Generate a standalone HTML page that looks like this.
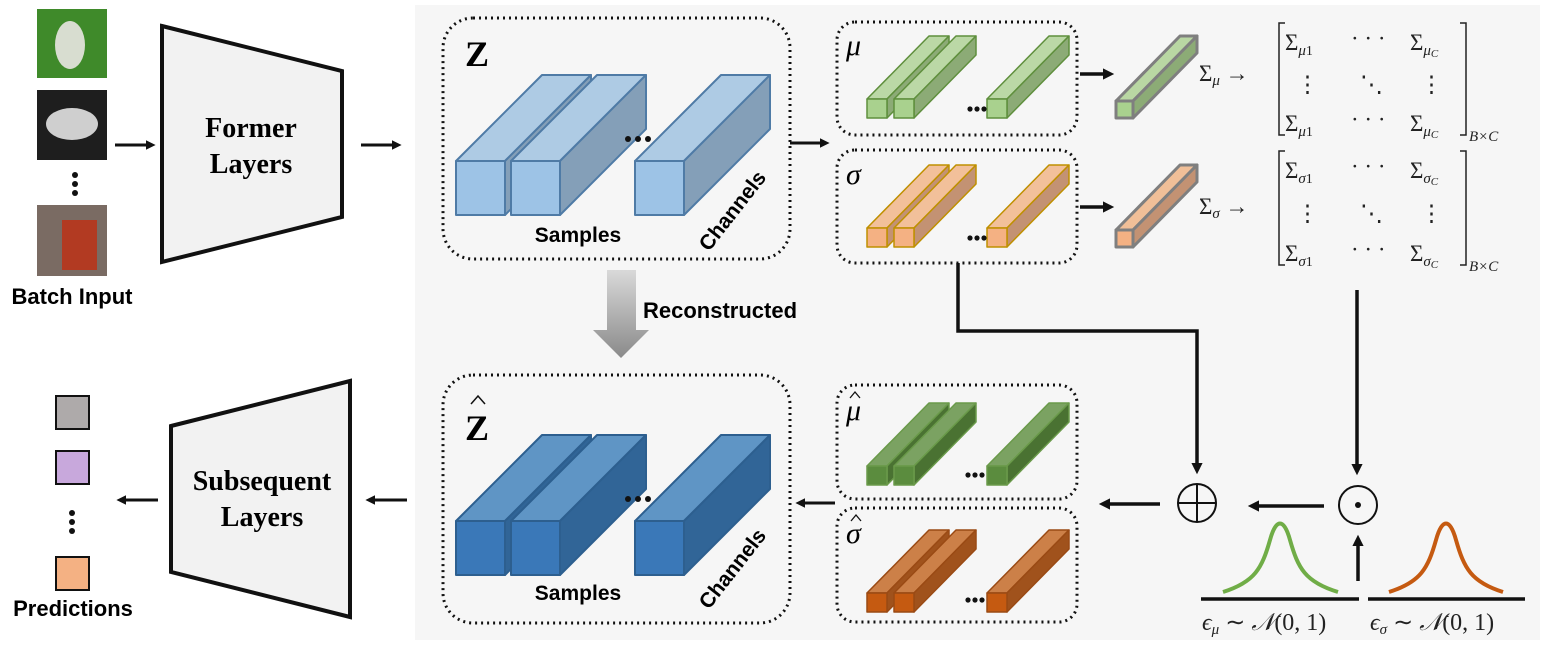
<!DOCTYPE html>
<html><head><meta charset="utf-8"><style>
html,body{margin:0;padding:0;background:#fff;}
svg{display:block;}
.m{font-family:"Liberation Serif",serif;font-style:italic;}
.r{font-family:"Liberation Serif",serif;}
.b{font-family:"Liberation Sans",sans-serif;font-weight:bold;}
</style></head><body>
<svg width="1545" height="646" viewBox="0 0 1545 646" xmlns="http://www.w3.org/2000/svg">
<defs>
<marker id="ah" markerWidth="4" markerHeight="4" refX="2" refY="2" orient="auto" markerUnits="strokeWidth"><path d="M0,0.4 L3.2,2 L0,3.6 Z" fill="#111"/></marker>
<linearGradient id="gg" x1="0" y1="0" x2="0" y2="1"><stop offset="0" stop-color="#d9d9d9"/><stop offset="1" stop-color="#8a8a8a"/></linearGradient>
</defs>
<rect x="415" y="5" width="1125" height="635" fill="#f6f6f6"/>

<!-- batch images -->
<rect x="37" y="9" width="70" height="69" fill="#3f8a2a"/>
<ellipse cx="70" cy="45" rx="15" ry="24" fill="#d8ddd0"/>
<rect x="37" y="90" width="70" height="70" fill="#1e1e1e"/>
<ellipse cx="72" cy="124" rx="26" ry="16" fill="#cfcfcf"/>
<rect x="37" y="205" width="70" height="71" fill="#7a6b63"/>
<rect x="62" y="220" width="35" height="50" fill="#b23a22"/>
<circle cx="75" cy="175" r="3" fill="#111"/><circle cx="75" cy="184" r="3" fill="#111"/><circle cx="75" cy="193" r="3" fill="#111"/>
<text x="72" y="304" class="b" font-size="22" text-anchor="middle">Batch Input</text>

<line x1="115" y1="145" x2="152" y2="145" stroke="#111" stroke-width="3" marker-end="url(#ah)"/>
<polygon points="162,26 342,71 342,217 162,262" fill="#f2f2f2" stroke="#111" stroke-width="4"/>
<text x="251" y="137" class="r" font-weight="bold" font-size="28" text-anchor="middle">Former</text>
<text x="251" y="173" class="r" font-weight="bold" font-size="28" text-anchor="middle">Layers</text>
<line x1="361" y1="145" x2="398" y2="145" stroke="#111" stroke-width="3" marker-end="url(#ah)"/>

<!-- predictions -->
<rect x="56" y="396" width="33" height="33" fill="#aeaaaa" stroke="#111" stroke-width="2"/>
<rect x="56" y="451" width="33" height="33" fill="#c8a8dc" stroke="#111" stroke-width="2"/>
<circle cx="72" cy="513" r="3" fill="#111"/><circle cx="72" cy="522" r="3" fill="#111"/><circle cx="72" cy="531" r="3" fill="#111"/>
<rect x="56" y="557" width="33" height="33" fill="#f4b183" stroke="#111" stroke-width="2"/>
<text x="73" y="616" class="b" font-size="22" text-anchor="middle">Predictions</text>
<line x1="158" y1="500" x2="120" y2="500" stroke="#111" stroke-width="3" marker-end="url(#ah)"/>
<polygon points="171,426 350,381 350,617 171,572" fill="#f2f2f2" stroke="#111" stroke-width="4"/>
<text x="262" y="490" class="r" font-weight="bold" font-size="28" text-anchor="middle">Subsequent</text>
<text x="262" y="526" class="r" font-weight="bold" font-size="28" text-anchor="middle">Layers</text>
<line x1="407" y1="500" x2="369" y2="500" stroke="#111" stroke-width="3" marker-end="url(#ah)"/>

<!-- dotted boxes -->
<g fill="none" stroke="#111" stroke-width="3" stroke-dasharray="2 4">
<rect x="443" y="18" width="347" height="241" rx="30"/>
<rect x="443" y="375" width="347" height="248" rx="30"/>
<rect x="837" y="22" width="240" height="113" rx="18"/>
<rect x="837" y="150" width="240" height="113" rx="18"/>
<rect x="837" y="385" width="240" height="114" rx="18"/>
<rect x="837" y="508" width="240" height="114" rx="18"/>
</g>

<!-- Z cuboids -->
<g stroke="#4f7ba6" stroke-width="2" stroke-linejoin="round">
<polygon points="456,161 505,161 591,75 542,75" fill="#aecbe4"/><polygon points="505,161 591,75 591,129 505,215" fill="#849fb8"/><rect x="456" y="161" width="49" height="54" fill="#9dc3e6"/>
<polygon points="511,161 560,161 646,75 597,75" fill="#aecbe4"/><polygon points="560,161 646,75 646,129 560,215" fill="#849fb8"/><rect x="511" y="161" width="49" height="54" fill="#9dc3e6"/>
<polygon points="635,161 684,161 770,75 721,75" fill="#aecbe4"/><polygon points="684,161 770,75 770,129 684,215" fill="#849fb8"/><rect x="635" y="161" width="49" height="54" fill="#9dc3e6"/>
</g>
<circle cx="628" cy="139" r="3" fill="#111"/><circle cx="638" cy="139" r="3" fill="#111"/><circle cx="648" cy="139" r="3" fill="#111"/>
<text x="465" y="66" class="r" font-weight="bold" font-size="36">Z</text>
<text x="578" y="242" class="b" font-size="21" text-anchor="middle" style="font-weight:600">Samples</text>
<text x="0" y="0" class="b" font-size="21" transform="translate(738,215) rotate(-52)" text-anchor="middle" style="font-weight:600">Channels</text>

<!-- Zhat cuboids -->
<g stroke="#2d5f8f" stroke-width="2" stroke-linejoin="round">
<polygon points="456,521 505,521 591,435 542,435" fill="#5f95c5"/><polygon points="505,521 591,435 591,489 505,575" fill="#316597"/><rect x="456" y="521" width="49" height="54" fill="#3a78b8"/>
<polygon points="511,521 560,521 646,435 597,435" fill="#5f95c5"/><polygon points="560,521 646,435 646,489 560,575" fill="#316597"/><rect x="511" y="521" width="49" height="54" fill="#3a78b8"/>
<polygon points="635,521 684,521 770,435 721,435" fill="#5f95c5"/><polygon points="684,521 770,435 770,489 684,575" fill="#316597"/><rect x="635" y="521" width="49" height="54" fill="#3a78b8"/>
</g>
<circle cx="628" cy="499" r="3" fill="#111"/><circle cx="638" cy="499" r="3" fill="#111"/><circle cx="648" cy="499" r="3" fill="#111"/>
<text x="465" y="440" class="r" font-weight="bold" font-size="36">Z</text>
<path d="M471,404 L478,396 L485,404" fill="none" stroke="#111" stroke-width="1.5"/>
<text x="578" y="600" class="b" font-size="21" text-anchor="middle" style="font-weight:600">Samples</text>
<text x="0" y="0" class="b" font-size="21" transform="translate(738,573) rotate(-52)" text-anchor="middle" style="font-weight:600">Channels</text>

<!-- reconstructed arrow -->
<polygon points="607,270 636,270 636,330 649,330 621,358 593,330 607,330" fill="url(#gg)"/>
<text x="643" y="318" class="b" font-size="22" style="font-weight:600">Reconstructed</text>

<line x1="790" y1="143" x2="826" y2="143" stroke="#111" stroke-width="3" marker-end="url(#ah)"/>
<line x1="835" y1="503" x2="799" y2="503" stroke="#111" stroke-width="3" marker-end="url(#ah)"/>

<!-- mu bars -->
<g stroke="#5f8f3d" stroke-width="1.5" stroke-linejoin="round">
<polygon points="867,99 887,99 949,36 929,36" fill="#bbd8a6"/><polygon points="887,99 949,36 949,55 887,118" fill="#8cab76"/><rect x="867" y="99" width="20" height="19" fill="#a9d18e"/>
<polygon points="894,99 914,99 976,36 956,36" fill="#bbd8a6"/><polygon points="914,99 976,36 976,55 914,118" fill="#8cab76"/><rect x="894" y="99" width="20" height="19" fill="#a9d18e"/>
<polygon points="987,99 1007,99 1069,36 1049,36" fill="#bbd8a6"/><polygon points="1007,99 1069,36 1069,55 1007,118" fill="#8cab76"/><rect x="987" y="99" width="20" height="19" fill="#a9d18e"/>
</g>
<g stroke="#bf9000" stroke-width="1.5" stroke-linejoin="round">
<polygon points="867,228 887,228 949,165 929,165" fill="#f2c09a"/><polygon points="887,228 949,165 949,184 887,247" fill="#c39273"/><rect x="867" y="228" width="20" height="19" fill="#f4b183"/>
<polygon points="894,228 914,228 976,165 956,165" fill="#f2c09a"/><polygon points="914,228 976,165 976,184 914,247" fill="#c39273"/><rect x="894" y="228" width="20" height="19" fill="#f4b183"/>
<polygon points="987,228 1007,228 1069,165 1049,165" fill="#f2c09a"/><polygon points="1007,228 1069,165 1069,184 1007,247" fill="#c39273"/><rect x="987" y="228" width="20" height="19" fill="#f4b183"/>
</g>
<g stroke="#6a9a4a" stroke-width="1.5" stroke-linejoin="round">
<polygon points="867,466 887,466 949,403 929,403" fill="#7ba262"/><polygon points="887,466 949,403 949,422 887,485" fill="#4a7232"/><rect x="867" y="466" width="20" height="19" fill="#5b8c3e"/>
<polygon points="894,466 914,466 976,403 956,403" fill="#7ba262"/><polygon points="914,466 976,403 976,422 914,485" fill="#4a7232"/><rect x="894" y="466" width="20" height="19" fill="#5b8c3e"/>
<polygon points="987,466 1007,466 1069,403 1049,403" fill="#7ba262"/><polygon points="1007,466 1069,403 1069,422 1007,485" fill="#4a7232"/><rect x="987" y="466" width="20" height="19" fill="#5b8c3e"/>
</g>
<g stroke="#9a4a14" stroke-width="1.5" stroke-linejoin="round">
<polygon points="867,593 887,593 949,530 929,530" fill="#cc8048"/><polygon points="887,593 949,530 949,549 887,612" fill="#a0521c"/><rect x="867" y="593" width="20" height="19" fill="#c55a11"/>
<polygon points="894,593 914,593 976,530 956,530" fill="#cc8048"/><polygon points="914,593 976,530 976,549 914,612" fill="#a0521c"/><rect x="894" y="593" width="20" height="19" fill="#c55a11"/>
<polygon points="987,593 1007,593 1069,530 1049,530" fill="#cc8048"/><polygon points="1007,593 1069,530 1069,549 1007,612" fill="#a0521c"/><rect x="987" y="593" width="20" height="19" fill="#c55a11"/>
</g>
<g fill="#111">
<circle cx="970" cy="109" r="2.6"/><circle cx="977" cy="109" r="2.6"/><circle cx="984" cy="109" r="2.6"/>
<circle cx="970" cy="238" r="2.6"/><circle cx="977" cy="238" r="2.6"/><circle cx="984" cy="238" r="2.6"/>
<circle cx="968" cy="475" r="2.6"/><circle cx="975" cy="475" r="2.6"/><circle cx="982" cy="475" r="2.6"/>
<circle cx="968" cy="600" r="2.6"/><circle cx="975" cy="600" r="2.6"/><circle cx="982" cy="600" r="2.6"/>
</g>
<text x="846" y="55" class="m" font-size="30">μ</text>
<text x="846" y="184" class="m" font-size="30">σ</text>
<text x="846" y="420" class="m" font-size="30">μ</text><path d="M850,398 L855,392 L860,398" fill="none" stroke="#111" stroke-width="1.3"/>
<text x="846" y="543" class="m" font-size="30">σ</text><path d="M851,521 L856,515 L861,521" fill="none" stroke="#111" stroke-width="1.3"/>

<line x1="1080" y1="74" x2="1110" y2="74" stroke="#111" stroke-width="3.5" marker-end="url(#ah)"/>
<line x1="1080" y1="207" x2="1110" y2="207" stroke="#111" stroke-width="3.5" marker-end="url(#ah)"/>
<g stroke="#7f7f7f" stroke-width="3" stroke-linejoin="round">
<polygon points="1116,101 1133,101 1197,36 1180,36" fill="#b9d7a3"/><polygon points="1133,101 1197,36 1197,53 1133,118" fill="#8cab76"/><rect x="1116" y="101" width="17" height="17" fill="#a9d18e"/>
<polygon points="1116,230 1133,230 1197,165 1180,165" fill="#f0bf98"/><polygon points="1133,230 1197,165 1197,182 1133,247" fill="#c39273"/><rect x="1116" y="230" width="17" height="17" fill="#f4b183"/>
</g>

<!-- matrices -->
<g fill="none" stroke="#222" stroke-width="1.5">
<path d="M1285,23 H1279 V135 H1285"/><path d="M1460,23 H1466 V135 H1460"/>
<path d="M1285,151 H1279 V265 H1285"/><path d="M1460,151 H1466 V265 H1460"/>
</g>
<g class="r" font-size="23" fill="#222">
<text x="1199" y="81">Σ<tspan class="m" font-size="15" dy="4">μ</tspan><tspan dy="-4"> →</tspan></text>
<text x="1285" y="50">Σ<tspan class="m" font-size="15" dy="5">μ</tspan><tspan font-size="14">1</tspan></text>
<text x="1351" y="46">· · ·</text>
<text x="1410" y="50">Σ<tspan class="m" font-size="15" dy="5">μ</tspan><tspan class="m" font-size="11" dy="2">C</tspan></text>
<text x="1296" y="92">⋮</text><text x="1360" y="92">⋱</text><text x="1420" y="92">⋮</text>
<text x="1285" y="131">Σ<tspan class="m" font-size="15" dy="5">μ</tspan><tspan font-size="14">1</tspan></text>
<text x="1351" y="127">· · ·</text>
<text x="1410" y="131">Σ<tspan class="m" font-size="15" dy="5">μ</tspan><tspan class="m" font-size="11" dy="2">C</tspan></text>
<text x="1469" y="141" class="m" font-size="15">B×C</text>

<text x="1199" y="214">Σ<tspan class="m" font-size="15" dy="4">σ</tspan><tspan dy="-4"> →</tspan></text>
<text x="1285" y="178">Σ<tspan class="m" font-size="15" dy="5">σ</tspan><tspan font-size="14">1</tspan></text>
<text x="1351" y="174">· · ·</text>
<text x="1410" y="178">Σ<tspan class="m" font-size="15" dy="5">σ</tspan><tspan class="m" font-size="11" dy="2">C</tspan></text>
<text x="1296" y="221">⋮</text><text x="1360" y="221">⋱</text><text x="1420" y="221">⋮</text>
<text x="1285" y="261">Σ<tspan class="m" font-size="15" dy="5">σ</tspan><tspan font-size="14">1</tspan></text>
<text x="1351" y="257">· · ·</text>
<text x="1410" y="261">Σ<tspan class="m" font-size="15" dy="5">σ</tspan><tspan class="m" font-size="11" dy="2">C</tspan></text>
<text x="1469" y="271" class="m" font-size="15">B×C</text>
</g>

<!-- connectors -->
<polyline points="958,263 958,331 1197,331 1197,470" fill="none" stroke="#111" stroke-width="3.5" marker-end="url(#ah)"/>
<line x1="1357" y1="290" x2="1357" y2="471" stroke="#111" stroke-width="3.5" marker-end="url(#ah)"/>
<line x1="1324" y1="506" x2="1252" y2="506" stroke="#111" stroke-width="3.5" marker-end="url(#ah)"/>
<line x1="1160" y1="504" x2="1103" y2="504" stroke="#111" stroke-width="3.5" marker-end="url(#ah)"/>
<line x1="1358" y1="581" x2="1358" y2="539" stroke="#111" stroke-width="3.5" marker-end="url(#ah)"/>
<circle cx="1197" cy="503" r="19" fill="none" stroke="#111" stroke-width="2"/>
<line x1="1178" y1="503" x2="1216" y2="503" stroke="#111" stroke-width="2"/><line x1="1197" y1="484" x2="1197" y2="522" stroke="#111" stroke-width="2"/>
<circle cx="1358" cy="505" r="19" fill="none" stroke="#111" stroke-width="2"/>
<circle cx="1358" cy="505" r="3" fill="#111"/>

<!-- gaussians -->
<path d="M1223,592 C1255,582 1262,568 1270,540 C1276,518 1284,518 1290,540 C1298,568 1305,582 1338,592" fill="none" stroke="#70ad47" stroke-width="4"/>
<path d="M1389,592 C1421,582 1428,568 1436,540 C1442,518 1450,518 1456,540 C1464,568 1471,582 1503,592" fill="none" stroke="#c55a11" stroke-width="4"/>
<line x1="1201" y1="599" x2="1359" y2="599" stroke="#111" stroke-width="3.5"/>
<line x1="1368" y1="599" x2="1525" y2="599" stroke="#111" stroke-width="3.5"/>
<text x="1202" y="630" class="r" font-size="24" fill="#222"><tspan class="m">ϵ</tspan><tspan class="m" font-size="15" dy="4">μ</tspan><tspan dy="-4"> ∼ </tspan><tspan class="m">𝒩</tspan>(0, 1)</text>
<text x="1370" y="630" class="r" font-size="24" fill="#222"><tspan class="m">ϵ</tspan><tspan class="m" font-size="15" dy="4">σ</tspan><tspan dy="-4"> ∼ </tspan><tspan class="m">𝒩</tspan>(0, 1)</text>
</svg>
</body></html>
